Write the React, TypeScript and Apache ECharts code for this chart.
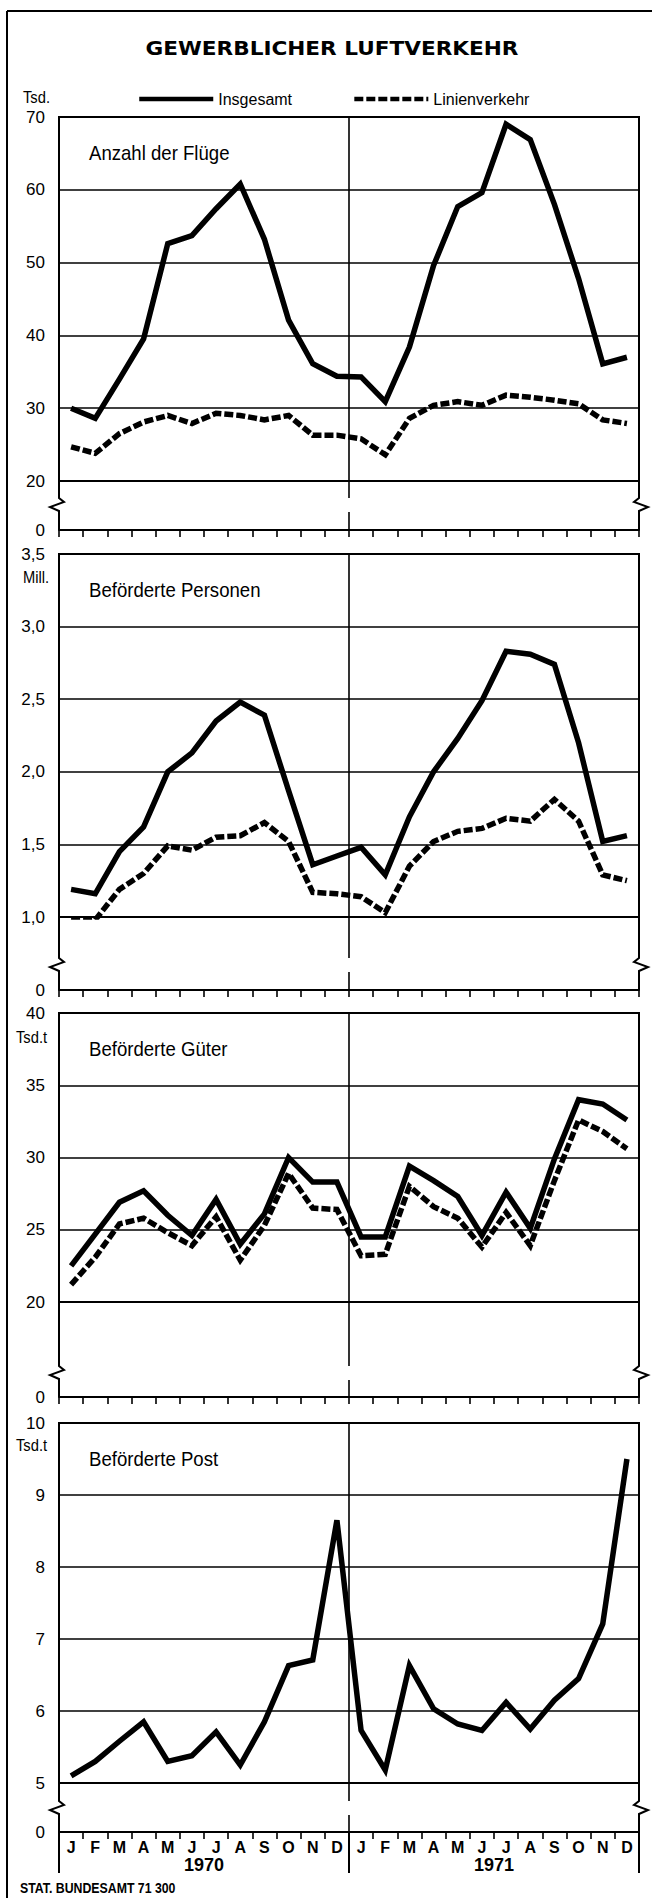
import React, { useEffect, useRef } from "react";
import * as echarts from "echarts";

// ---------- data ----------
const MONTHS = ["J", "F", "M", "A", "M", "J", "J", "A", "S", "O", "N", "D", "J", "F", "M", "A", "M", "J", "J", "A", "S", "O", "N", "D"];
const YEARS = ["1970", "1971"];

// Anzahl der Flüge (Tsd.)
const FLUEGE_INSGESAMT = [30.0, 28.6, 34.0, 39.5, 52.6, 53.7, 57.4, 60.8, 53.2, 42.1, 36.1, 34.4, 34.3, 30.9, 38.4, 49.6, 57.7, 59.6, 69.0, 66.9, 58.0, 47.8, 36.1, 37.0];
const FLUEGE_LINIEN = [24.7, 23.8, 26.5, 28.1, 29.0, 27.9, 29.3, 29.0, 28.4, 29.0, 26.3, 26.3, 25.8, 23.6, 28.6, 30.4, 30.9, 30.4, 31.8, 31.5, 31.1, 30.6, 28.4, 27.9];

// Beförderte Personen (Mill.)
const PERSONEN_INSGESAMT = [1.19, 1.16, 1.45, 1.62, 2.0, 2.13, 2.35, 2.48, 2.39, 1.87, 1.36, 1.42, 1.48, 1.29, 1.69, 2.0, 2.23, 2.49, 2.83, 2.81, 2.74, 2.2, 1.52, 1.56];
const PERSONEN_LINIEN = [0.98, 0.98, 1.19, 1.3, 1.49, 1.46, 1.55, 1.56, 1.65, 1.52, 1.17, 1.16, 1.14, 1.03, 1.35, 1.52, 1.59, 1.61, 1.68, 1.66, 1.81, 1.66, 1.29, 1.25];

// Beförderte Güter (Tsd. t)
const GUETER_INSGESAMT = [22.5, 24.7, 26.9, 27.7, 26.0, 24.6, 27.1, 24.0, 26.1, 30.0, 28.3, 28.3, 24.5, 24.5, 29.4, 28.4, 27.3, 24.6, 27.6, 25.1, 29.9, 34.0, 33.7, 32.6];
const GUETER_LINIEN = [21.2, 23.1, 25.4, 25.8, 24.8, 23.9, 25.9, 22.9, 25.3, 28.9, 26.5, 26.4, 23.2, 23.3, 28.0, 26.6, 25.8, 23.8, 26.2, 23.9, 28.4, 32.6, 31.8, 30.6];

// Beförderte Post (Tsd. t)
const POST_INSGESAMT = [5.1, 5.3, 5.58, 5.85, 5.3, 5.38, 5.71, 5.25, 5.85, 6.63, 6.71, 8.65, 5.73, 5.18, 6.63, 6.03, 5.82, 5.73, 6.12, 5.75, 6.15, 6.45, 7.21, 9.5];

const TITLE = "GEWERBLICHER LUFTVERKEHR";
const NAME_TOTAL = "Insgesamt";
const NAME_LINE = "Linienverkehr";
const SOURCE = "STAT. BUNDESAMT 71 300";

// ---------- layout ----------
const W = 652;
const H = 1898;
const L = 59;
const R = 639;
const MIDX = (L + R) / 2;
const SANS = "'Liberation Sans', Arial, Helvetica, sans-serif";
const WIDE = "'DejaVu Sans', 'Liberation Sans', Arial, sans-serif";

type Panel = {
  title: string;
  unit: string;
  unitX: number;
  unitY: number;
  top: number;
  mid: number;
  brk: number;
  zero: number;
  min: number;
  max: number;
  interval: number;
  comma: boolean;
  total: number[];
  line?: number[];
};

const PANELS: Panel[] = [
  { title: "Anzahl der Flüge", unit: "Tsd.", unitX: 23, unitY: 97, top: 117, mid: 481, brk: 498, zero: 530, min: 20, max: 70, interval: 10, comma: false, total: FLUEGE_INSGESAMT, line: FLUEGE_LINIEN },
  { title: "Beförderte Personen", unit: "Mill.", unitX: 23, unitY: 577, top: 554, mid: 917, brk: 958, zero: 990, min: 1.0, max: 3.5, interval: 0.5, comma: true, total: PERSONEN_INSGESAMT, line: PERSONEN_LINIEN },
  { title: "Beförderte Güter", unit: "Tsd.t", unitX: 16, unitY: 1037, top: 1013, mid: 1302, brk: 1366, zero: 1397, min: 20, max: 40, interval: 5, comma: false, total: GUETER_INSGESAMT, line: GUETER_LINIEN },
  { title: "Beförderte Post", unit: "Tsd.t", unitX: 16, unitY: 1445, top: 1423, mid: 1783, brk: 1801, zero: 1832, min: 5, max: 10, interval: 1, comma: false, total: POST_INSGESAMT },
];

const SOLID = { color: "#000", width: 5.5, type: "solid" as const, join: "miter" as const, cap: "butt" as const, miterLimit: 4 };
const DASHED = { color: "#000", width: 5.5, type: [9, 3], join: "miter" as const, cap: "butt" as const, miterLimit: 4 };

function buildOption() {
  const grid: any[] = [];
  const xAxis: any[] = [];
  const yAxis: any[] = [];
  const series: any[] = [];
  const graphic: any[] = [];

  PANELS.forEach((p, i) => {
    const last = i === PANELS.length - 1;
    const gMain = grid.length;
    grid.push({ left: L, right: W - R, top: p.top, height: p.mid - p.top, show: true, borderColor: "#000", borderWidth: 2, backgroundColor: "transparent" });
    const gLow = grid.length;
    grid.push({ left: L, right: W - R, top: p.mid, height: p.zero - p.mid, show: false });

    const xMonths = xAxis.length;
    xAxis.push({
      gridIndex: gMain, type: "category", data: MONTHS, boundaryGap: true, position: "bottom",
      axisLine: { show: false }, axisTick: { show: false }, axisLabel: { show: false }, splitLine: { show: false },
    });
    xAxis.push({
      gridIndex: gMain, type: "category", data: YEARS, boundaryGap: true, position: "top",
      axisLine: { show: false }, axisTick: { show: false }, axisLabel: { show: false },
      splitLine: { show: true, interval: 0, lineStyle: { color: "#000", width: 1.6 } },
    });
    xAxis.push({
      gridIndex: gLow, type: "category", data: MONTHS, boundaryGap: true, position: "bottom",
      axisLine: { show: true, lineStyle: { color: "#000", width: 2 } },
      axisTick: { show: true, inside: false, length: 7, interval: 0, lineStyle: { color: "#000", width: 1.6 } },
      axisLabel: { show: last, interval: 0, margin: 7, color: "#000", fontFamily: SANS, fontWeight: "bold", fontSize: 16, lineHeight: 16 },
      splitLine: { show: false },
    });
    if (last) {
      xAxis.push({
        gridIndex: gLow, type: "category", data: YEARS, boundaryGap: true, position: "bottom",
        axisLine: { show: false },
        axisTick: { show: true, inside: false, length: 41, interval: 0, lineStyle: { color: "#000", width: 2 } },
        axisLabel: { show: true, interval: 0, margin: 24, color: "#000", fontFamily: SANS, fontWeight: "bold", fontSize: 18, lineHeight: 18 },
        splitLine: { show: false },
      });
    }

    const yMain = yAxis.length;
    yAxis.push({
      gridIndex: gMain, type: "value", min: p.min, max: p.max, interval: p.interval,
      axisLine: { show: false }, axisTick: { show: false },
      axisLabel: {
        margin: 14, color: "#000", fontFamily: SANS, fontSize: 17,
        formatter: (v: number) => (p.comma ? v.toFixed(1).replace(".", ",") : String(v)),
      },
      splitLine: { show: true, lineStyle: { color: "#000", width: 1.6 } },
    });
    yAxis.push({
      gridIndex: gLow, type: "value", min: 0, max: 1, interval: 1,
      axisLine: { show: false }, axisTick: { show: false }, splitLine: { show: false },
      axisLabel: { margin: 14, color: "#000", fontFamily: SANS, fontSize: 17, showMaxLabel: false, formatter: (v: number) => (v === 0 ? "0" : "") },
    });

    series.push({
      type: "line", name: NAME_TOTAL, xAxisIndex: xMonths, yAxisIndex: yMain, data: p.total,
      symbol: "none", lineStyle: SOLID, itemStyle: { color: "#000" }, z: 5,
    });
    if (p.line) {
      series.push({
        type: "line", name: NAME_LINE, xAxisIndex: xMonths, yAxisIndex: yMain, data: p.line,
        symbol: "none", lineStyle: DASHED, itemStyle: { color: "#000" }, z: 4,
      });
    }

    // panel title and unit
    graphic.push({
      type: "text", x: 89, y: p.top + 36, scaleX: 0.93, silent: true,
      style: { text: p.title, fill: "#000", font: `20px ${SANS}`, textVerticalAlign: "middle" },
    });
    graphic.push({
      type: "text", x: p.unitX, y: p.unitY, scaleX: 0.92, silent: true,
      style: { text: p.unit, fill: "#000", font: `16px ${SANS}`, textVerticalAlign: "middle" },
    });

    // broken-axis decorations
    const b = p.brk;
    const lineStyle = { stroke: "#000", lineWidth: 2, fill: "none" };
    graphic.push({
      type: "polyline", silent: true, z: 10,
      shape: { points: [[L, p.mid], [L, b], [L + 5, b + 4], [L - 9, b + 9], [L, b + 13], [L, p.zero]] },
      style: lineStyle,
    });
    graphic.push({
      type: "polyline", silent: true, z: 10,
      shape: { points: [[R, p.mid], [R, b], [R - 5, b + 4], [R + 9, b + 9], [R, b + 13], [R, p.zero]] },
      style: lineStyle,
    });
    graphic.push({ type: "line", silent: true, z: 10, shape: { x1: MIDX, y1: p.mid, x2: MIDX, y2: b }, style: { stroke: "#000", lineWidth: 1.6 } });
    graphic.push({ type: "line", silent: true, z: 10, shape: { x1: MIDX, y1: b + 14, x2: MIDX, y2: p.zero }, style: { stroke: "#000", lineWidth: 1.6 } });
  });

  // frame
  graphic.push({ type: "line", silent: true, shape: { x1: 7, y1: 11, x2: W, y2: 11 }, style: { stroke: "#000", lineWidth: 2 } });
  graphic.push({ type: "line", silent: true, shape: { x1: 7, y1: 11, x2: 7, y2: H }, style: { stroke: "#000", lineWidth: 2 } });
  // title
  graphic.push({
    type: "text", x: 332, y: 48, scaleX: 1.08, silent: true,
    style: { text: TITLE, fill: "#000", font: `bold 20px ${WIDE}`, textAlign: "center", textVerticalAlign: "middle" },
  });
  // source
  graphic.push({
    type: "text", x: 20, y: 1888, scaleX: 0.88, silent: true,
    style: { text: SOURCE, fill: "#000", font: `bold 14px ${SANS}`, textVerticalAlign: "middle" },
  });

  return {
    animation: false,
    backgroundColor: "#fff",
    legend: {
      data: [NAME_TOTAL, NAME_LINE],
      left: 132, top: 86, itemWidth: 74, itemHeight: 5, itemGap: 60,
      lineStyle: { width: 4.5 },
      itemStyle: { opacity: 0, borderWidth: 0 },
      textStyle: { color: "#000", fontFamily: SANS, fontSize: 16 },
      selectedMode: false,
    },
    grid, xAxis, yAxis, series, graphic,
  };
}

export default function App() {
  const ref = useRef<HTMLDivElement>(null);
  useEffect(() => {
    if (!ref.current) return;
    const chart = echarts.init(ref.current, undefined, { renderer: "svg", width: W, height: H });
    chart.setOption(buildOption() as any);
    return () => chart.dispose();
  }, []);
  return <div ref={ref} style={{ position: "absolute", left: 0, top: 0, width: W, height: H, background: "#fff" }} />;
}
